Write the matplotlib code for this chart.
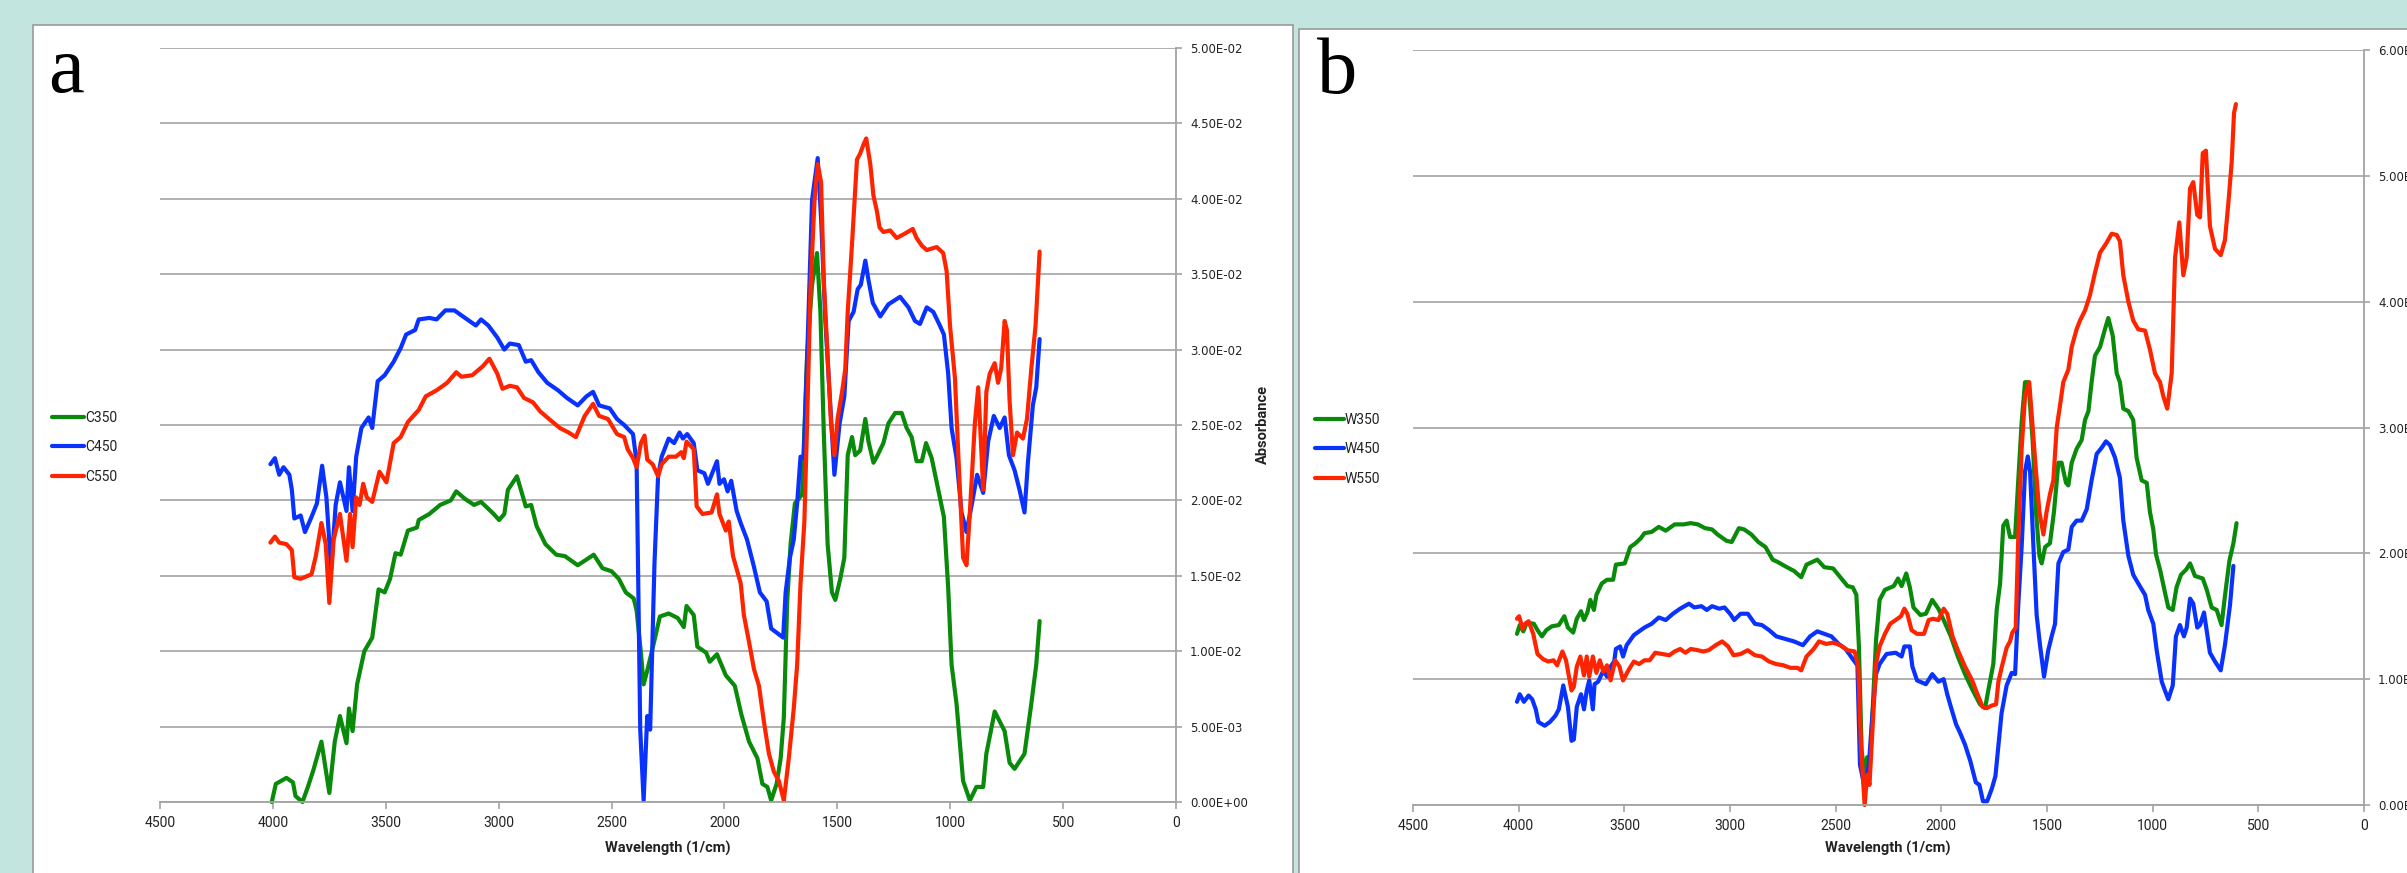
import matplotlib
matplotlib.use("Agg")
import matplotlib.pyplot as plt
from matplotlib.patches import Rectangle

# ---- data: (wavenumber 1/cm, absorbance) ----
c350 = [(4005, 0.0000), (3987, 0.0012), (3940, 0.0016), (3911, 0.0013), (3900, 0.0004), (3869, 0.0000),
        (3845, 0.0010), (3821, 0.0021), (3785, 0.0040), (3750, 0.0006), (3726, 0.0040), (3703, 0.0057),
        (3674, 0.0039), (3663, 0.0062), (3647, 0.0047), (3627, 0.0078), (3595, 0.0100), (3560, 0.0109),
        (3532, 0.0141), (3505, 0.0139), (3481, 0.0148), (3457, 0.0165), (3434, 0.0164), (3402, 0.0180),
        (3362, 0.0182), (3354, 0.0187), (3307, 0.0191), (3259, 0.0197), (3212, 0.0200), (3188, 0.0206),
        (3149, 0.0201), (3109, 0.0197), (3078, 0.0199), (3022, 0.0191), (2998, 0.0187), (2975, 0.0191),
        (2959, 0.0207), (2919, 0.0216), (2880, 0.0196), (2856, 0.0197), (2832, 0.0183), (2793, 0.0171),
        (2745, 0.0164), (2706, 0.0163), (2650, 0.0157), (2619, 0.0160), (2579, 0.0164), (2540, 0.0155),
        (2500, 0.0153), (2468, 0.0148), (2437, 0.0139), (2402, 0.0135), (2389, 0.0127), (2370, 0.0099),
        (2358, 0.0078), (2342, 0.0087), (2318, 0.0102), (2286, 0.0123), (2247, 0.0125), (2207, 0.0122),
        (2180, 0.0116), (2168, 0.0130), (2136, 0.0124), (2120, 0.0103), (2081, 0.0099), (2065, 0.0093),
        (2033, 0.0098), (1994, 0.0084), (1954, 0.0077), (1925, 0.0058), (1891, 0.0040), (1854, 0.0029),
        (1832, 0.0012), (1810, 0.0010), (1793, 0.0001), (1769, 0.0012), (1751, 0.0029), (1737, 0.0056),
        (1722, 0.0133), (1707, 0.0171), (1688, 0.0198), (1656, 0.0204), (1634, 0.0296), (1612, 0.0343),
        (1590, 0.0364), (1575, 0.0325), (1560, 0.0245), (1543, 0.0171), (1524, 0.0139), (1509, 0.0134),
        (1487, 0.0148), (1469, 0.0162), (1454, 0.0230), (1435, 0.0242), (1421, 0.0230), (1399, 0.0233),
        (1376, 0.0254), (1362, 0.0239), (1340, 0.0225), (1325, 0.0229), (1296, 0.0238), (1274, 0.0251),
        (1244, 0.0258), (1215, 0.0258), (1193, 0.0248), (1171, 0.0242), (1149, 0.0226), (1126, 0.0226),
        (1107, 0.0238), (1082, 0.0228), (1053, 0.0207), (1028, 0.0189), (1009, 0.0142), (994, 0.0091),
        (972, 0.0065), (943, 0.0014), (913, 0.0001), (884, 0.0010), (854, 0.0010), (840, 0.0032),
        (803, 0.0060), (759, 0.0047), (737, 0.0026), (715, 0.0022), (671, 0.0032), (641, 0.0065),
        (619, 0.0091), (604, 0.0120)]

c450 = [(4011, 0.0224), (3991, 0.0228), (3972, 0.0217), (3953, 0.0222), (3927, 0.0217), (3916, 0.0207),
        (3905, 0.0188), (3877, 0.0190), (3858, 0.0179), (3829, 0.0189), (3805, 0.0198), (3782, 0.0223),
        (3763, 0.0202), (3742, 0.0154), (3722, 0.0197), (3703, 0.0212), (3674, 0.0193), (3663, 0.0222),
        (3647, 0.0193), (3631, 0.0229), (3608, 0.0248), (3576, 0.0255), (3560, 0.0248), (3536, 0.0279),
        (3505, 0.0283), (3465, 0.0292), (3434, 0.0301), (3410, 0.0310), (3370, 0.0313), (3354, 0.0320),
        (3307, 0.0321), (3275, 0.0320), (3236, 0.0326), (3196, 0.0326), (3149, 0.0321), (3101, 0.0316),
        (3078, 0.0320), (3046, 0.0316), (3006, 0.0308), (2975, 0.0300), (2951, 0.0304), (2911, 0.0303),
        (2880, 0.0292), (2856, 0.0293), (2824, 0.0285), (2785, 0.0278), (2737, 0.0273), (2698, 0.0268),
        (2650, 0.0263), (2611, 0.0269), (2582, 0.0272), (2555, 0.0263), (2508, 0.0261), (2476, 0.0254),
        (2444, 0.0250), (2405, 0.0244), (2389, 0.0225), (2373, 0.0048), (2358, 0.0001), (2342, 0.0057),
        (2329, 0.0048), (2310, 0.0158), (2294, 0.0216), (2278, 0.0229), (2247, 0.0241), (2223, 0.0238),
        (2199, 0.0245), (2184, 0.0241), (2165, 0.0244), (2136, 0.0238), (2120, 0.0220), (2089, 0.0218),
        (2073, 0.0211), (2033, 0.0226), (2022, 0.0211), (2002, 0.0214), (1986, 0.0206), (1970, 0.0213),
        (1946, 0.0193), (1928, 0.0185), (1900, 0.0174), (1871, 0.0157), (1843, 0.0139), (1813, 0.0133),
        (1793, 0.0115), (1766, 0.0112), (1740, 0.0109), (1729, 0.0139), (1710, 0.0162), (1693, 0.0174),
        (1678, 0.0198), (1663, 0.0229), (1649, 0.0228), (1634, 0.0293), (1612, 0.0399), (1587, 0.0427),
        (1572, 0.0387), (1553, 0.0319), (1531, 0.0263), (1513, 0.0217), (1490, 0.0251), (1469, 0.0269),
        (1450, 0.0319), (1428, 0.0325), (1410, 0.0340), (1396, 0.0343), (1376, 0.0359), (1362, 0.0346),
        (1343, 0.0331), (1310, 0.0322), (1274, 0.0330), (1222, 0.0335), (1185, 0.0328), (1156, 0.0319),
        (1134, 0.0317), (1104, 0.0328), (1075, 0.0325), (1046, 0.0316), (1028, 0.0310), (1009, 0.0284),
        (994, 0.0248), (972, 0.0228), (950, 0.0192), (928, 0.0179), (906, 0.0196), (881, 0.0217),
        (854, 0.0205), (832, 0.0239), (807, 0.0256), (781, 0.0248), (759, 0.0255), (740, 0.0230),
        (715, 0.0220), (693, 0.0207), (671, 0.0192), (656, 0.0225), (634, 0.0263), (619, 0.0275),
        (604, 0.0307)]

c550 = [(4011, 0.0172), (3991, 0.0176), (3972, 0.0172), (3940, 0.0171), (3916, 0.0167), (3905, 0.0149),
        (3877, 0.0148), (3845, 0.0150), (3829, 0.0151), (3810, 0.0163), (3785, 0.0185), (3766, 0.0171),
        (3750, 0.0132), (3731, 0.0174), (3703, 0.0191), (3674, 0.0160), (3658, 0.0191), (3647, 0.0169),
        (3631, 0.0202), (3616, 0.0197), (3600, 0.0211), (3584, 0.0202), (3560, 0.0199), (3528, 0.0219),
        (3497, 0.0212), (3465, 0.0238), (3434, 0.0242), (3402, 0.0252), (3354, 0.0260), (3323, 0.0269),
        (3275, 0.0273), (3228, 0.0278), (3188, 0.0285), (3165, 0.0282), (3117, 0.0283), (3070, 0.0289),
        (3041, 0.0294), (3006, 0.0284), (2983, 0.0274), (2951, 0.0276), (2919, 0.0275), (2888, 0.0268),
        (2848, 0.0265), (2816, 0.0259), (2777, 0.0254), (2729, 0.0248), (2690, 0.0245), (2658, 0.0242),
        (2619, 0.0256), (2582, 0.0264), (2555, 0.0256), (2516, 0.0254), (2476, 0.0244), (2444, 0.0242),
        (2429, 0.0234), (2405, 0.0228), (2389, 0.0222), (2370, 0.0238), (2354, 0.0243), (2342, 0.0227),
        (2318, 0.0224), (2294, 0.0216), (2278, 0.0224), (2247, 0.0229), (2215, 0.0229), (2191, 0.0232),
        (2180, 0.0228), (2168, 0.0239), (2136, 0.0234), (2123, 0.0196), (2097, 0.0191), (2057, 0.0192),
        (2033, 0.0204), (2022, 0.0191), (1994, 0.0180), (1981, 0.0186), (1962, 0.0163), (1928, 0.0145),
        (1914, 0.0124), (1891, 0.0106), (1869, 0.0088), (1847, 0.0077), (1825, 0.0053), (1803, 0.0032),
        (1781, 0.0020), (1759, 0.0014), (1737, 0.0001), (1715, 0.0029), (1693, 0.0062), (1678, 0.0091),
        (1663, 0.0145), (1646, 0.0186), (1634, 0.0251), (1619, 0.0340), (1601, 0.0399), (1587, 0.0423),
        (1572, 0.0411), (1560, 0.0346), (1543, 0.0296), (1528, 0.0251), (1513, 0.0230), (1499, 0.0254),
        (1479, 0.0272), (1465, 0.0287), (1454, 0.0325), (1435, 0.0370), (1413, 0.0426), (1399, 0.0430),
        (1384, 0.0436), (1372, 0.0440), (1354, 0.0423), (1340, 0.0402), (1325, 0.0392), (1313, 0.0381),
        (1296, 0.0378), (1266, 0.0379), (1237, 0.0374), (1200, 0.0377), (1166, 0.0380), (1149, 0.0374),
        (1126, 0.0369), (1104, 0.0366), (1060, 0.0368), (1031, 0.0364), (1016, 0.0352), (1001, 0.0316),
        (979, 0.0281), (965, 0.0233), (943, 0.0162), (928, 0.0157), (913, 0.0192), (891, 0.0251),
        (876, 0.0275), (866, 0.0245), (854, 0.0207), (840, 0.0272), (825, 0.0284), (803, 0.0291),
        (788, 0.0278), (774, 0.0288), (759, 0.0319), (749, 0.0313), (737, 0.0266), (722, 0.0230),
        (704, 0.0245), (678, 0.0241), (660, 0.0254), (641, 0.0287), (622, 0.0316), (604, 0.0365)]

w350 = [(4008, 0.0136), (3995, 0.0143), (3978, 0.0138), (3961, 0.0145), (3928, 0.0144), (3911, 0.0139),
        (3890, 0.0134), (3869, 0.0139), (3843, 0.0142), (3810, 0.0143), (3784, 0.0150), (3767, 0.0141),
        (3742, 0.0137), (3725, 0.0148), (3705, 0.0154), (3691, 0.0147), (3675, 0.0153), (3661, 0.0163),
        (3644, 0.0155), (3632, 0.0167), (3607, 0.0176), (3582, 0.0179), (3553, 0.0179), (3540, 0.0191),
        (3498, 0.0192), (3472, 0.0205), (3447, 0.0208), (3422, 0.0212), (3405, 0.0216), (3371, 0.0217),
        (3337, 0.0221), (3304, 0.0218), (3262, 0.0223), (3220, 0.0223), (3186, 0.0224), (3152, 0.0223),
        (3118, 0.0220), (3085, 0.0219), (3059, 0.0215), (3017, 0.0210), (2992, 0.0209), (2958, 0.0220),
        (2933, 0.0219), (2899, 0.0215), (2866, 0.0209), (2832, 0.0205), (2798, 0.0195), (2773, 0.0193),
        (2731, 0.0189), (2697, 0.0186), (2663, 0.0181), (2638, 0.0191), (2587, 0.0195), (2554, 0.0189),
        (2512, 0.0188), (2478, 0.0181), (2444, 0.0174), (2419, 0.0173), (2402, 0.0167), (2390, 0.0126),
        (2377, 0.0043), (2363, 0.0024), (2351, 0.0038), (2340, 0.0024), (2326, 0.0072), (2309, 0.0131),
        (2292, 0.0163), (2267, 0.0171), (2225, 0.0174), (2205, 0.0180), (2188, 0.0174), (2166, 0.0184),
        (2149, 0.0173), (2132, 0.0157), (2099, 0.0151), (2073, 0.0152), (2043, 0.0163), (2014, 0.0156),
        (1989, 0.0147), (1955, 0.0134), (1922, 0.0118), (1888, 0.0104), (1854, 0.0092), (1817, 0.0080),
        (1793, 0.0077), (1778, 0.0091), (1754, 0.0112), (1738, 0.0155), (1722, 0.0176), (1707, 0.0222),
        (1691, 0.0226), (1675, 0.0213), (1651, 0.0213), (1636, 0.0258), (1620, 0.0304), (1604, 0.0336),
        (1588, 0.0336), (1568, 0.0290), (1552, 0.0233), (1536, 0.0198), (1525, 0.0192), (1509, 0.0205),
        (1486, 0.0208), (1467, 0.0233), (1446, 0.0272), (1431, 0.0272), (1410, 0.0256), (1399, 0.0254),
        (1383, 0.0272), (1360, 0.0283), (1336, 0.0290), (1320, 0.0306), (1304, 0.0313), (1289, 0.0336),
        (1273, 0.0357), (1249, 0.0364), (1226, 0.0378), (1210, 0.0387), (1189, 0.0373), (1170, 0.0343),
        (1155, 0.0336), (1139, 0.0315), (1115, 0.0313), (1092, 0.0306), (1076, 0.0276), (1052, 0.0258),
        (1028, 0.0256), (1013, 0.0233), (997, 0.0219), (984, 0.0199), (965, 0.0187), (942, 0.0169),
        (926, 0.0157), (905, 0.0155), (887, 0.0173), (866, 0.0183), (842, 0.0187), (823, 0.0192),
        (800, 0.0182), (763, 0.0180), (744, 0.0171), (721, 0.0157), (697, 0.0155), (674, 0.0143),
        (658, 0.0166), (637, 0.0194), (618, 0.0208), (603, 0.0224)]

w450 = [(4008, 0.0082), (3995, 0.0088), (3975, 0.0082), (3953, 0.0087), (3936, 0.0084), (3919, 0.0076),
        (3907, 0.0066), (3877, 0.0063), (3852, 0.0066), (3826, 0.0071), (3810, 0.0076), (3789, 0.0095),
        (3767, 0.0078), (3750, 0.0051), (3739, 0.0052), (3725, 0.0078), (3705, 0.0088), (3691, 0.0076),
        (3678, 0.0091), (3666, 0.0099), (3649, 0.0076), (3641, 0.0096), (3624, 0.0098), (3599, 0.0107),
        (3582, 0.0102), (3565, 0.0110), (3548, 0.0114), (3540, 0.0124), (3520, 0.0126), (3506, 0.0118),
        (3489, 0.0127), (3455, 0.0135), (3430, 0.0138), (3405, 0.0141), (3371, 0.0144), (3337, 0.0149),
        (3304, 0.0147), (3270, 0.0152), (3236, 0.0156), (3194, 0.0160), (3169, 0.0157), (3135, 0.0158),
        (3110, 0.0155), (3085, 0.0158), (3051, 0.0156), (3026, 0.0157), (3000, 0.0152), (2980, 0.0147),
        (2950, 0.0152), (2916, 0.0152), (2882, 0.0144), (2849, 0.0143), (2815, 0.0139), (2781, 0.0134),
        (2739, 0.0132), (2697, 0.0130), (2655, 0.0127), (2621, 0.0134), (2587, 0.0138), (2554, 0.0136),
        (2520, 0.0134), (2486, 0.0128), (2453, 0.0124), (2419, 0.0116), (2397, 0.0111), (2385, 0.0032),
        (2363, 0.0014), (2343, 0.0032), (2326, 0.0072), (2309, 0.0104), (2292, 0.0112), (2259, 0.0120),
        (2216, 0.0121), (2188, 0.0118), (2175, 0.0126), (2149, 0.0126), (2137, 0.0110), (2115, 0.0099),
        (2073, 0.0096), (2043, 0.0104), (2014, 0.0098), (1989, 0.0100), (1972, 0.0088), (1955, 0.0078),
        (1930, 0.0064), (1913, 0.0058), (1888, 0.0048), (1863, 0.0035), (1837, 0.0018), (1820, 0.0016),
        (1803, 0.0003), (1783, 0.0003), (1761, 0.0013), (1744, 0.0023), (1715, 0.0073), (1691, 0.0095),
        (1667, 0.0105), (1651, 0.0104), (1636, 0.0159), (1620, 0.0205), (1604, 0.0265), (1591, 0.0277),
        (1580, 0.0265), (1565, 0.0208), (1549, 0.0151), (1533, 0.0127), (1514, 0.0102), (1494, 0.0123),
        (1478, 0.0134), (1462, 0.0144), (1446, 0.0192), (1423, 0.0201), (1399, 0.0203), (1383, 0.0221),
        (1360, 0.0226), (1336, 0.0226), (1312, 0.0235), (1289, 0.0258), (1265, 0.0279), (1241, 0.0284),
        (1221, 0.0289), (1202, 0.0286), (1178, 0.0276), (1155, 0.0260), (1139, 0.0226), (1115, 0.0198),
        (1092, 0.0183), (1068, 0.0176), (1036, 0.0167), (1021, 0.0155), (997, 0.0144), (981, 0.0123),
        (957, 0.0098), (942, 0.0091), (926, 0.0084), (905, 0.0095), (890, 0.0134), (871, 0.0143),
        (852, 0.0134), (839, 0.0141), (823, 0.0164), (808, 0.0160), (789, 0.0141), (776, 0.0143),
        (757, 0.0153), (729, 0.0121), (705, 0.0114), (678, 0.0107), (658, 0.0127), (634, 0.0159),
        (618, 0.0190)]

w550 = [(4008, 0.0148), (3998, 0.0150), (3981, 0.0140), (3970, 0.0144), (3953, 0.0146), (3931, 0.0136),
        (3911, 0.0120), (3885, 0.0116), (3860, 0.0114), (3835, 0.0115), (3818, 0.0111), (3793, 0.0122),
        (3776, 0.0115), (3750, 0.0091), (3739, 0.0094), (3725, 0.0110), (3708, 0.0118), (3691, 0.0103),
        (3678, 0.0118), (3666, 0.0102), (3649, 0.0118), (3632, 0.0105), (3616, 0.0115), (3599, 0.0106),
        (3582, 0.0111), (3565, 0.0099), (3543, 0.0115), (3523, 0.0110), (3506, 0.0099), (3481, 0.0107),
        (3455, 0.0114), (3430, 0.0112), (3405, 0.0115), (3380, 0.0115), (3354, 0.0121), (3321, 0.0120),
        (3287, 0.0119), (3262, 0.0122), (3236, 0.0124), (3211, 0.0121), (3186, 0.0124), (3152, 0.0123),
        (3127, 0.0122), (3101, 0.0123), (3068, 0.0127), (3037, 0.0130), (3009, 0.0126), (2983, 0.0119),
        (2950, 0.0120), (2916, 0.0123), (2882, 0.0119), (2849, 0.0118), (2815, 0.0114), (2781, 0.0112),
        (2747, 0.0111), (2714, 0.0109), (2680, 0.0109), (2663, 0.0107), (2638, 0.0118), (2604, 0.0124),
        (2579, 0.0130), (2545, 0.0128), (2512, 0.0129), (2478, 0.0127), (2444, 0.0123), (2410, 0.0122),
        (2393, 0.0110), (2380, 0.0046), (2363, 0.0000), (2351, 0.0024), (2340, 0.0016), (2326, 0.0059),
        (2309, 0.0112), (2292, 0.0126), (2267, 0.0136), (2242, 0.0144), (2216, 0.0147), (2191, 0.0150),
        (2175, 0.0156), (2161, 0.0152), (2141, 0.0139), (2115, 0.0136), (2082, 0.0136), (2060, 0.0147),
        (2040, 0.0148), (2014, 0.0147), (1989, 0.0156), (1972, 0.0152), (1947, 0.0134), (1922, 0.0123),
        (1888, 0.0110), (1854, 0.0099), (1829, 0.0088), (1805, 0.0078), (1785, 0.0077), (1762, 0.0079),
        (1741, 0.0080), (1730, 0.0098), (1715, 0.0109), (1691, 0.0125), (1675, 0.0130), (1664, 0.0137),
        (1648, 0.0141), (1636, 0.0212), (1620, 0.0283), (1604, 0.0325), (1584, 0.0336), (1568, 0.0300),
        (1552, 0.0265), (1536, 0.0233), (1517, 0.0215), (1502, 0.0233), (1486, 0.0247), (1470, 0.0258),
        (1454, 0.0300), (1438, 0.0318), (1423, 0.0336), (1399, 0.0346), (1383, 0.0364), (1360, 0.0378),
        (1344, 0.0385), (1320, 0.0393), (1297, 0.0405), (1273, 0.0423), (1249, 0.0439), (1221, 0.0446),
        (1194, 0.0454), (1170, 0.0453), (1155, 0.0448), (1139, 0.0421), (1115, 0.0400), (1092, 0.0385),
        (1068, 0.0378), (1036, 0.0377), (1013, 0.0362), (989, 0.0343), (965, 0.0336), (950, 0.0325),
        (931, 0.0315), (910, 0.0343), (894, 0.0435), (874, 0.0463), (855, 0.0421), (839, 0.0435),
        (823, 0.0490), (808, 0.0495), (789, 0.0469), (776, 0.0467), (763, 0.0518), (748, 0.0520),
        (729, 0.0460), (705, 0.0442), (678, 0.0437), (658, 0.0449), (642, 0.0478), (626, 0.0511),
        (615, 0.0550), (606, 0.0557)]

labels_a = ["C350", "C450", "C550"]
labels_b = ["W350", "W450", "W550"]
x_ticks = list(range(0, 4501, 500))
y_ticks_a = [i * 0.005 for i in range(11)]
y_ticks_b = [i * 0.01 for i in range(7)]

colors = ["#0a8a0a", "#0a32ff", "#ff2400"]
GRID = "#a3a3a3"
NARROW = ["Roboto", "DejaVu Sans"]

W, H = 2407, 873
fig = plt.figure(figsize=(W / 100, H / 100), dpi=100, facecolor="#c3e5e0")

# white chart frames, drawn underneath the axes
fig.patches.append(Rectangle((33 / W, -0.05), (1293 - 33) / W, 1.05 - 25 / H,
                             transform=fig.transFigure, facecolor="white",
                             edgecolor="#9a9a9a", lw=1.2, zorder=-5))
fig.patches.append(Rectangle((1299 / W, -0.05), 1.1, 1.05 - 29 / H,
                             transform=fig.transFigure, facecolor="white",
                             edgecolor="#9a9a9a", lw=1.2, zorder=-5))


def px_axes(x0, x1, ytop, ybot):
    ax = fig.add_axes([x0 / W, 1 - ybot / H, (x1 - x0) / W, (ybot - ytop) / H])
    ax.set_zorder(2)
    return ax


def style(ax, yticks, ymax):
    ax.set_facecolor("none")
    ax.set_xlim(4500, 0)
    ax.set_ylim(0, ymax)
    for s in ("top", "left"):
        ax.spines[s].set_visible(False)
    for s in ("bottom", "right"):
        ax.spines[s].set_color(GRID)
        ax.spines[s].set_linewidth(1.3)
    ax.set_xticks(x_ticks, labels=[str(t) for t in x_ticks], fontfamily=NARROW, fontsize=10)
    ax.set_yticks(yticks, labels=[f"{v:.2E}" for v in yticks], fontfamily="DejaVu Sans", fontsize=8.5)
    ax.tick_params(axis="x", direction="out", length=5, width=1.2, color=GRID, pad=5,
                   labelcolor="#222222")
    ax.tick_params(axis="y", direction="out", length=4, width=1.2, color=GRID, pad=6,
                   left=False, labelleft=False, right=True, labelright=True, labelcolor="#222222")
    ax.yaxis.grid(True, color=GRID, lw=1.2)
    ax.set_axisbelow(True)


def draw(ax, series, labels):
    for data, lab, col in zip(series, labels, colors):
        xs = [p[0] for p in data]
        ys = [p[1] for p in data]
        ax.plot(xs, ys, color=col, lw=3.0, label=lab, clip_on=False,
                solid_joinstyle="round", solid_capstyle="round")


ax_a = px_axes(160, 1176, 48, 802)
style(ax_a, y_ticks_a, 0.05)
draw(ax_a, [c350, c450, c550], labels_a)
ax_a.legend(loc="upper left", bbox_to_anchor=(52 / W, 1 - 411 / H), bbox_transform=fig.transFigure,
            frameon=False, prop={"family": NARROW, "size": 10}, handlelength=2.3,
            handletextpad=0.1, labelspacing=1.1, borderpad=0, borderaxespad=0, labelcolor="#222222")

ax_b = px_axes(1413, 2364, 50, 805)
style(ax_b, y_ticks_b, 0.06)
draw(ax_b, [w350, w450, w550], labels_b)
ax_b.legend(loc="upper left", bbox_to_anchor=(1315 / W, 1 - 413 / H), bbox_transform=fig.transFigure,
            frameon=False, prop={"family": NARROW, "size": 10}, handlelength=2.1,
            handletextpad=0.05, labelspacing=1.1, borderpad=0, borderaxespad=0, labelcolor="#222222")

# axis titles
fig.text(668 / W, 1 - 848 / H, "Wavelength (1/cm)", ha="center", va="center",
         family=NARROW, weight="bold", fontsize=10.5, color="#222222")
fig.text(1888 / W, 1 - 848 / H, "Wavelength (1/cm)", ha="center", va="center",
         family=NARROW, weight="bold", fontsize=10.5, color="#222222")
fig.text(1263 / W, 1 - 424 / H, "Absorbance", rotation=90, ha="center", va="center",
         family=NARROW, weight="bold", fontsize=10.5, color="#222222")

# panel letters
fig.text(48 / W, 1 - 92 / H, "a", family="Liberation Serif", fontsize=58, ha="left", va="baseline")
fig.text(1317 / W, 1 - 93 / H, "b", family="Liberation Serif", fontsize=58, ha="left", va="baseline")

fig.savefig("out.png", dpi=100, facecolor=fig.get_facecolor())
